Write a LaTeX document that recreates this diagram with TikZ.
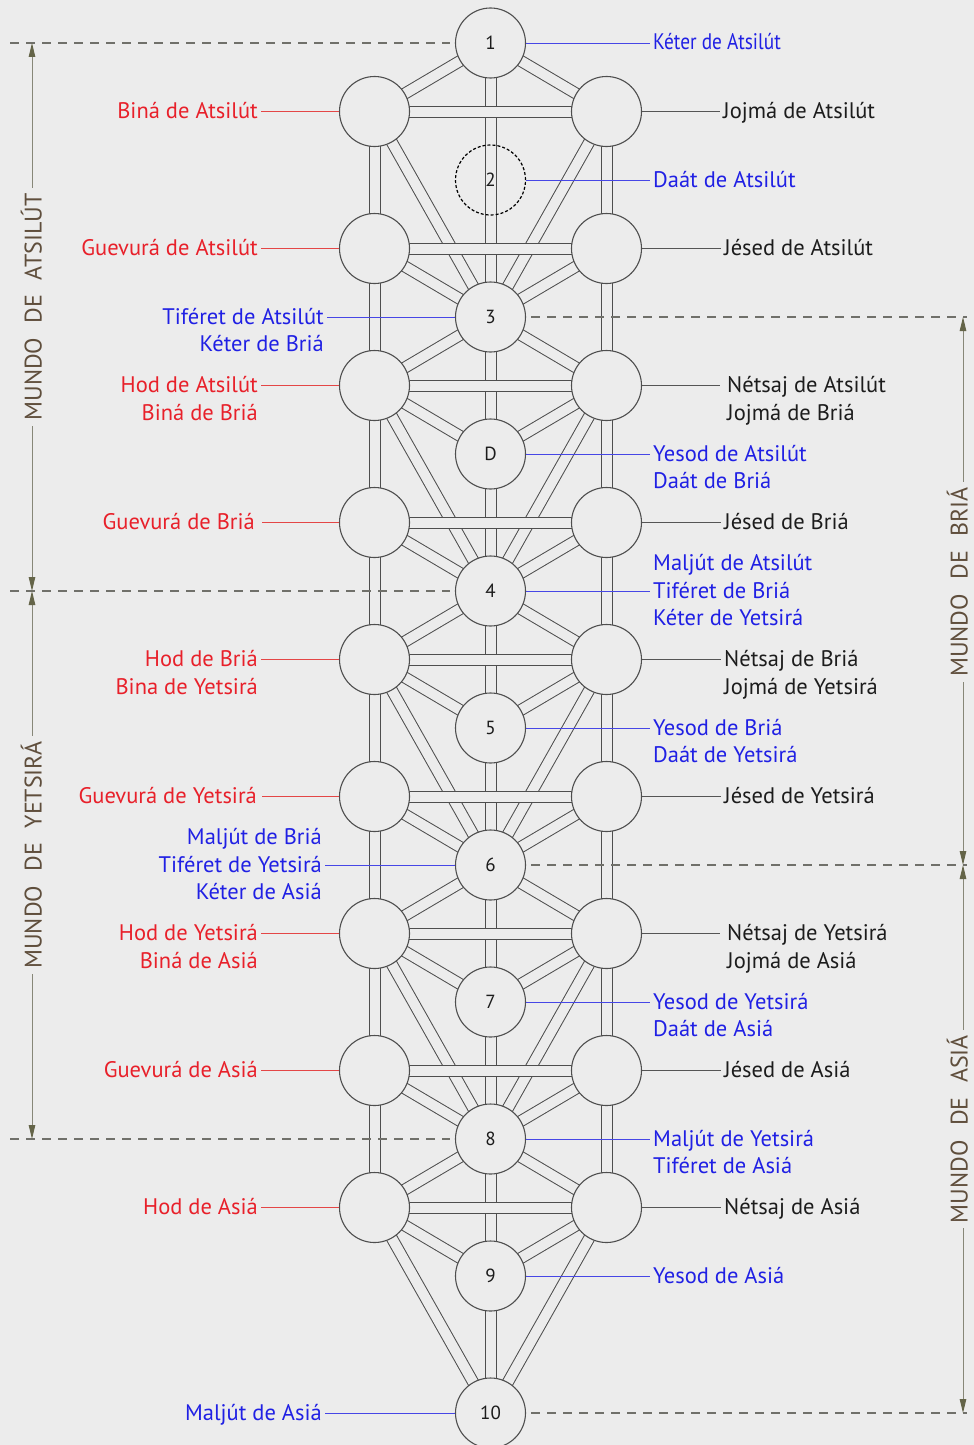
\documentclass[tikz,border=0pt]{standalone}
\usepackage{fontspec}
\setmainfont{PT Sans}
\usetikzlibrary{arrows.meta}
\pgfdeclarelayer{bgl}
\pgfdeclarelayer{chl}
\pgfsetlayers{bgl,chl,main}
\definecolor{bg}{RGB}{236,236,236}
\definecolor{chan}{RGB}{78,78,78}
\definecolor{cred}{RGB}{232,32,42}
\definecolor{cblue}{RGB}{32,32,228}
\definecolor{cblack}{RGB}{28,28,28}
\definecolor{lred}{RGB}{228,70,70}
\definecolor{lblue}{RGB}{70,70,230}
\definecolor{lgray}{RGB}{85,85,85}
\definecolor{worldc}{RGB}{95,78,60}
\definecolor{dimc}{RGB}{135,135,120}
\definecolor{dimhead}{RGB}{100,100,72}
\definecolor{dashc}{RGB}{112,112,106}
\begin{document}
\begin{tikzpicture}[x=1pt,y=-1pt,
  sef/.style={circle, draw=chan, line width=1.1pt, fill=bg, minimum size=70pt, inner sep=0pt, text=cblack, font=\fontsize{19}{19}\selectfont},
  sefdash/.style={circle, draw=black, line width=1.2pt, dash pattern=on 3pt off 2pt, minimum size=70pt, inner sep=0pt, text=cblack, font=\fontsize{19}{19}\selectfont},
  chanl/.style={draw=chan, line width=1.0pt, double=bg, double distance=10pt},
  lab/.style={inner xsep=3pt, inner ysep=0pt, text height=16pt, text depth=2pt, font=\fontsize{22.5}{22.5}\selectfont},
  labL/.style={lab, anchor=east},
  labR/.style={lab, anchor=west},
  tred/.style={text=cred}, tblue/.style={text=cblue}, tblack/.style={text=cblack},
  leadred/.style={draw=lred, line width=0.9pt},
  leadblue/.style={draw=lblue, line width=0.9pt},
  leadgray/.style={draw=lgray, line width=0.9pt},
  dashl/.style={draw=dashc, line width=1.5pt, dash pattern=on 9pt off 7pt},
  dimarrow/.style={draw=dimc, line width=1pt, {Triangle[length=14pt,width=6.5pt,color=dimhead]}-{Triangle[length=14pt,width=6.5pt,color=dimhead]}},
  world/.style={rotate=90, fill=bg, inner xsep=5pt, inner ysep=0pt, text height=17pt, text depth=0pt, text=worldc, font=\fontsize{24}{24}\selectfont}
]
\useasboundingbox (0,0) rectangle (974,1445);
\begin{pgfonlayer}{bgl}
\fill[bg] (0,0) rectangle (974,1445);
\end{pgfonlayer}

% sefirot
\foreach \i/\t in {0/1,2/3,3/D,4/4,5/5,6/6,7/7,8/8,9/9,10/10}
  \node[sef] (m\i) at (490.5,{43+137*\i}) {\t};
\node[sefdash] (m1) at (490.5,180) {2};
\foreach \j in {1,...,9} {
  \node[sef] (l\j) at (374.5,{111.5+137*(\j-1)}) {};
  \node[sef] (r\j) at (606.5,{111.5+137*(\j-1)}) {};
}

% channels
\begin{pgfonlayer}{chl}
\draw[chanl] (m0.center) -- (m10.center);
\draw[chanl] (l1.center) -- (l9.center);
\draw[chanl] (r1.center) -- (r9.center);
\foreach \a/\b in {m0/l1,m0/r1,l1/m2,r1/m2,l2/m2,r2/m2,
  m2/l3,m2/r3,l3/m3,r3/m3,l3/m4,r3/m4,l4/m4,r4/m4,
  m4/l5,m4/r5,l5/m5,r5/m5,l5/m6,r5/m6,l6/m6,r6/m6,
  m6/l7,m6/r7,l7/m7,r7/m7,l7/m8,r7/m8,l8/m8,r8/m8,
  m8/l9,m8/r9,l9/m9,r9/m9,l9/m10,r9/m10}
  \draw[chanl] (\a.center) -- (\b.center);
\foreach \j in {1,...,9}
  \draw[chanl] (l\j.center) -- (r\j.center);
\end{pgfonlayer}

% world boundaries
\coordinate (wl0) at (10,43);
\coordinate (wl4) at (10,591);
\coordinate (wl8) at (10,1139);
\coordinate (wr2) at (967,317);
\coordinate (wr6) at (967,865);
\coordinate (wr10) at (967,1413);
\draw[dashl] (wl0) -- ([xshift=-5pt]m0.west);
\draw[dashl] (wl4) -- ([xshift=-5pt]m4.west);
\draw[dashl] (wl8) -- ([xshift=-5pt]m8.west);
\draw[dashl] ([xshift=5pt]m2.east) -- (wr2);
\draw[dashl] ([xshift=5pt]m6.east) -- (wr6);
\draw[dashl] ([xshift=5pt]m10.east) -- (wr10);

\coordinate (aA1) at (32,43);   \coordinate (aA2) at (32,591);
\coordinate (aY1) at (32,591);  \coordinate (aY2) at (32,1139);
\coordinate (aB1) at (963,317); \coordinate (aB2) at (963,865);
\coordinate (aS1) at (963,865); \coordinate (aS2) at (963,1413);
\draw[dimarrow] (aA1) -- (aA2);
\draw[dimarrow] (aY1) -- (aY2);
\draw[dimarrow] (aB1) -- (aB2);
\draw[dimarrow] (aS1) -- (aS2);
\node[world] (wA) at (33,307) {MUNDO\hspace{0.6em}DE\hspace{0.6em}ATSILÚT};
\node[world] (wY) at (33,855) {MUNDO\hspace{0.6em}DE\hspace{0.6em}YETSIRÁ};
\node[world] (wB) at (959,582) {MUNDO\hspace{0.6em}DE\hspace{0.6em}BRIÁ};
\node[world] (wS) at (959,1129) {MUNDO\hspace{0.6em}DE\hspace{0.6em}ASIÁ};

% left labels
\node[labL,tred] (tL1) at (261,111.5) {Biná de Atsilút};
\node[labL,tred] (tL2) at (261,248.5) {Guevurá de Atsilút};
\node[labL,tblue] (tM2a) at (327,317) {Tiféret de Atsilút};
\node[labL,tblue] (tM2b) at (327,344.5) {Kéter de Briá};
\node[labL,tred] (tL3a) at (261,385.5) {Hod de Atsilút};
\node[labL,tred] (tL3b) at (261,413) {Biná de Briá};
\node[labL,tred,inner xsep=7pt] (tL4) at (262,522.5) {Guevurá de Briá};
\node[labL,tred] (tL5a) at (261,659.5) {Hod de Briá};
\node[labL,tred] (tL5b) at (261,687) {Bina de Yetsirá};
\node[labL,tred,inner xsep=5pt] (tL6) at (262,796.5) {Guevurá de Yetsirá};
\node[labL,tblue] (tM6a) at (325,837.5) {Maljút de Briá};
\node[labL,tblue] (tM6b) at (325,865) {Tiféret de Yetsirá};
\node[labL,tblue] (tM6c) at (325,892.5) {Kéter de Asiá};
\node[labL,tred] (tL7a) at (261,933.5) {Hod de Yetsirá};
\node[labL,tred] (tL7b) at (261,961) {Biná de Asiá};
\node[labL,tred] (tL8) at (261,1070.5) {Guevurá de Asiá};
\node[labL,tred] (tL9) at (261,1207.5) {Hod de Asiá};
\node[labL,tblue] (tM10) at (325,1413) {Maljút de Asiá};

\draw[leadred] (tL1.east) -- (l1.west);
\draw[leadred] (tL2.east) -- (l2.west);
\draw[leadblue] (tM2a.east) -- (m2.west);
\draw[leadred] (tL3a.east) -- (l3.west);
\draw[leadred] (tL4.east) -- (l4.west);
\draw[leadred] (tL5a.east) -- (l5.west);
\draw[leadred] (tL6.east) -- (l6.west);
\draw[leadblue] (tM6b.east) -- (m6.west);
\draw[leadred] (tL7a.east) -- (l7.west);
\draw[leadred] (tL8.east) -- (l8.west);
\draw[leadred] (tL9.east) -- (l9.west);
\draw[leadblue] (tM10.east) -- (m10.west);

% right labels
\node[labR,tblue] (tM0) at (650,43) {\scalebox{0.86}[1]{Kéter de Atsilút}};
\node[labR,tblack] (tR1) at (720,111.5) {Jojmá de Atsilút};
\node[labR,tblue] (tM1) at (650,180) {Daát de Atsilút};
\node[labR,tblack] (tR2) at (721,248.5) {Jésed de Atsilút};
\node[labR,tblack] (tR3a) at (724,385.5) {Nétsaj de Atsilút};
\node[labR,tblack] (tR3b) at (724,413) {Jojmá de Briá};
\node[labR,tblue] (tM3a) at (650,454) {Yesod de Atsilút};
\node[labR,tblue] (tM3b) at (650,481.5) {Daát de Briá};
\node[labR,tblack] (tR4) at (721,522.5) {Jésed de Briá};
\node[labR,tblue] (tM4a) at (650,563.5) {Maljút de Atsilút};
\node[labR,tblue] (tM4b) at (650,591) {Tiféret de Briá};
\node[labR,tblue] (tM4c) at (650,618.5) {Kéter de Yetsirá};
\node[labR,tblack] (tR5a) at (721,659.5) {Nétsaj de Briá};
\node[labR,tblack] (tR5b) at (721,687) {Jojmá de Yetsirá};
\node[labR,tblue] (tM5a) at (650,728) {Yesod de Briá};
\node[labR,tblue] (tM5b) at (650,755.5) {Daát de Yetsirá};
\node[labR,tblack] (tR6) at (721,796.5) {Jésed de Yetsirá};
\node[labR,tblack] (tR7a) at (724,933.5) {Nétsaj de Yetsirá};
\node[labR,tblack] (tR7b) at (724,961) {Jojmá de Asiá};
\node[labR,tblue] (tM7a) at (650,1002) {Yesod de Yetsirá};
\node[labR,tblue] (tM7b) at (650,1029.5) {Daát de Asiá};
\node[labR,tblack] (tR8) at (721,1070.5) {Jésed de Asiá};
\node[labR,tblue] (tM8a) at (650,1139) {Maljút de Yetsirá};
\node[labR,tblue] (tM8b) at (650,1166.5) {Tiféret de Asiá};
\node[labR,tblack] (tR9) at (721,1207.5) {Nétsaj de Asiá};
\node[labR,tblue] (tM9) at (650,1276) {Yesod de Asiá};

\draw[leadblue] (m0.east) -- (tM0.west);
\draw[leadgray] (r1.east) -- (tR1.west);
\draw[leadblue] (m1.east) -- (tM1.west);
\draw[leadgray] (r2.east) -- (tR2.west);
\draw[leadgray] (r3.east) -- ([xshift=-4pt]tR3a.west);
\draw[leadblue] (m3.east) -- (tM3a.west);
\draw[leadgray] (r4.east) -- (tR4.west);
\draw[leadblue] (m4.east) -- (tM4b.west);
\draw[leadgray] (r5.east) -- (tR5a.west);
\draw[leadblue] (m5.east) -- (tM5a.west);
\draw[leadgray] (r6.east) -- (tR6.west);
\draw[leadgray] (r7.east) -- ([xshift=-4pt]tR7a.west);
\draw[leadblue] (m7.east) -- (tM7a.west);
\draw[leadgray] (r8.east) -- (tR8.west);
\draw[leadblue] (m8.east) -- (tM8a.west);
\draw[leadgray] (r9.east) -- (tR9.west);
\draw[leadblue] (m9.east) -- (tM9.west);
\end{tikzpicture}
\end{document}
